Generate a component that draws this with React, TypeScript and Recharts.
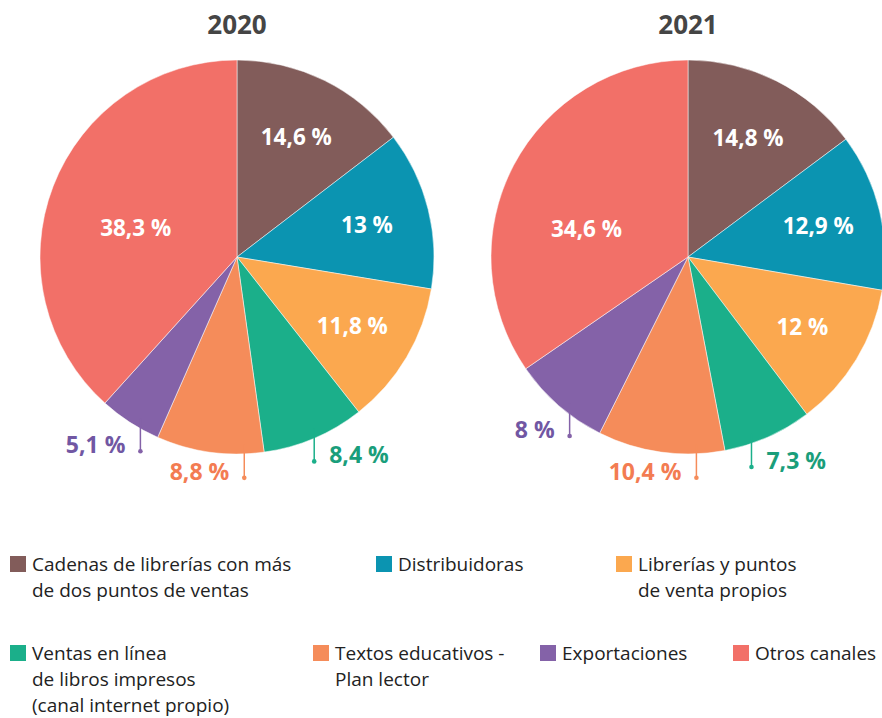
import React from 'react';
import { PieChart, Pie, Cell } from 'recharts';

const categories = [
  'Cadenas de librerías con más de dos puntos de ventas',
  'Distribuidoras',
  'Librerías y puntos de venta propios',
  'Ventas en línea de libros impresos (canal internet propio)',
  'Textos educativos - Plan lector',
  'Exportaciones',
  'Otros canales',
];
const legendLines = [
  ['Cadenas de librerías con más', 'de dos puntos de ventas'],
  ['Distribuidoras'],
  ['Librerías y puntos', 'de venta propios'],
  ['Ventas en línea', 'de libros impresos', '(canal internet propio)'],
  ['Textos educativos -', 'Plan lector'],
  ['Exportaciones'],
  ['Otros canales'],
];
const years = ['2020', '2021'];
const values2020 = [14.6, 13, 11.8, 8.4, 8.8, 5.1, 38.3];
const values2021 = [14.8, 12.9, 12, 7.3, 10.4, 8, 34.6];

// styling
const colors = ['#825c5a', '#0b94b1', '#fba84f', '#1baf8a', '#f58c5a', '#8462a8', '#f27068'];
const outsideTextColors = ['', '', '', '#1a9e7b', '#f37c52', '#7157a3', ''];
const outsideSide = ['', '', '', 'right', 'left', 'left', ''];
const leaderFrac = [
  [0, 0, 0, 0.46, 0.18, 0.39, 0],
  [0, 0, 0, 0.66, 0.22, 0.43, 0],
];
const bigLabelAngleOffset = [5, 12];
const FONT = '"Open Sans", sans-serif';
const R = 197;
const pieCenters = [
  { cx: 237, cy: 257 },
  { cx: 688, cy: 257 },
];
const legendPos = [
  { x: 10, y: 551 },
  { x: 376, y: 551 },
  { x: 616, y: 551 },
  { x: 10, y: 640 },
  { x: 313, y: 640 },
  { x: 540, y: 640 },
  { x: 733, y: 640 },
];

const fmt = (v: number) => String(v).replace('.', ',') + ' %';
const RAD = Math.PI / 180;

const makeLabel = (yearIdx: number) => (props: any) => {
  const { cx, cy, midAngle, outerRadius, startAngle, endAngle, index, value } = props;
  const text = fmt(value);
  if (outsideSide[index] === '') {
    const big = index === 6;
    const f = big ? 0.535 : 0.68;
    const ang = big ? midAngle + bigLabelAngleOffset[yearIdx] : midAngle;
    const r = outerRadius * f;
    const x = cx + r * Math.cos(-ang * RAD);
    const y = cy + r * Math.sin(-ang * RAD);
    return (
      <text key={`l${index}`} x={x} y={y} fill="#ffffff" fontSize={22.5} fontWeight={700} fontFamily={FONT} textAnchor="middle" dominantBaseline="central">
        {text}
      </text>
    );
  }
  const a = startAngle + leaderFrac[yearIdx][index] * (endAngle - startAngle);
  const r = outerRadius - 9;
  const ax = cx + r * Math.cos(-a * RAD);
  const ay = cy + r * Math.sin(-a * RAD);
  const by = ay + 33;
  const c = colors[index];
  const left = outsideSide[index] === 'left';
  return (
    <g key={`l${index}`}>
      <line x1={ax} y1={ay} x2={ax} y2={by} stroke={c} strokeWidth={1.5} />
      <circle cx={ax} cy={by} r={2.3} fill={c} />
      <text x={left ? ax - 15 : ax + 15} y={by - 7} fill={outsideTextColors[index]} fontSize={23} fontWeight={700} fontFamily={FONT} textAnchor={left ? 'end' : 'start'} dominantBaseline="central">
        {text}
      </text>
    </g>
  );
};

const datasets = [values2020, values2021].map((vals) => vals.map((v, i) => ({ name: categories[i], value: v })));

export default function App() {
  return (
    <div style={{ position: 'absolute', left: 0, top: 0, width: 882, height: 718, background: '#fff', fontFamily: FONT, overflow: 'hidden' }}>
      <PieChart width={882} height={718} margin={{ top: 0, right: 0, bottom: 0, left: 0 }}>
        {datasets.map((data, yi) => (
          <Pie
            key={years[yi]}
            data={data}
            dataKey="value"
            nameKey="name"
            cx={pieCenters[yi].cx}
            cy={pieCenters[yi].cy}
            outerRadius={R}
            innerRadius={0}
            startAngle={90}
            endAngle={-270}
            isAnimationActive={false}
            label={makeLabel(yi)}
            labelLine={false}
            stroke="#ffffff"
            strokeWidth={0.5}
          >
            {data.map((_, i) => (
              <Cell key={i} fill={colors[i]} />
            ))}
          </Pie>
        ))}
      </PieChart>
      {years.map((y, yi) => (
        <div
          key={y}
          style={{ position: 'absolute', left: pieCenters[yi].cx - 60, width: 120, top: 7, textAlign: 'center', fontSize: 26, fontWeight: 700, color: '#454545', lineHeight: '34px' }}
        >
          {y}
        </div>
      ))}
      {legendLines.map((lines, i) => (
        <div key={i} style={{ position: 'absolute', left: legendPos[i].x, top: legendPos[i].y }}>
          <div style={{ position: 'absolute', left: 0, top: 5, width: 16, height: 16, background: colors[i] }} />
          <div style={{ position: 'absolute', left: 22, top: 0, fontSize: 19, lineHeight: '26px', color: '#222', whiteSpace: 'nowrap' }}>
            {lines.map((l, k) => (
              <div key={k}>{l}</div>
            ))}
          </div>
        </div>
      ))}
    </div>
  );
}
